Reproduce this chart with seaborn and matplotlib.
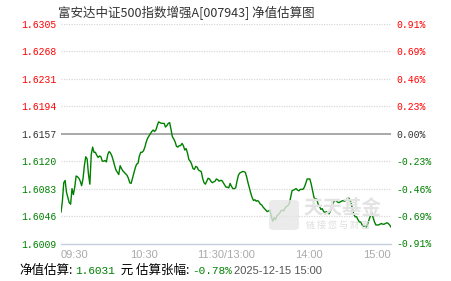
import numpy as np
import pandas as pd
import matplotlib
matplotlib.use("Agg")
import matplotlib.pyplot as plt
import seaborn as sns
from matplotlib.offsetbox import TextArea, HPacker, AnchoredOffsetbox
from matplotlib.patches import FancyBboxPatch

# ---------------- data ----------------
title = "富安达中证500指数增强A[007943] 净值估算图"
prev_nav = 1.6157
nav_values = [
    1.6051, 1.6066, 1.6091, 1.6094, 1.6078, 1.6071, 1.6064, 1.6062, 1.6083, 1.6075,
    1.6085, 1.6100, 1.6099, 1.6097, 1.6093, 1.6087, 1.6096, 1.6114, 1.6126, 1.6123,
    1.6102, 1.6089, 1.6129, 1.6139, 1.6132, 1.6132, 1.6128, 1.6125, 1.6127, 1.6126,
    1.6120, 1.6120, 1.6121, 1.6119, 1.6129, 1.6133, 1.6131, 1.6127, 1.6121, 1.6114,
    1.6108, 1.6105, 1.6102, 1.6114, 1.6110, 1.6107, 1.6105, 1.6103, 1.6101, 1.6097,
    1.6091, 1.6090, 1.6097, 1.6104, 1.6111, 1.6116, 1.6117, 1.6127, 1.6132, 1.6132,
    1.6134, 1.6139, 1.6146, 1.6151, 1.6154, 1.6157, 1.6160, 1.6162, 1.6160, 1.6162,
    1.6168, 1.6173, 1.6172, 1.6171, 1.6171, 1.6171, 1.6166, 1.6168, 1.6171, 1.6172,
    1.6163, 1.6153, 1.6150, 1.6146, 1.6140, 1.6139, 1.6141, 1.6141, 1.6144, 1.6141,
    1.6135, 1.6137, 1.6131, 1.6122, 1.6120, 1.6116, 1.6110, 1.6109, 1.6113, 1.6112,
    1.6108, 1.6107, 1.6106, 1.6097, 1.6091, 1.6089, 1.6093, 1.6097, 1.6096, 1.6093,
    1.6091, 1.6092, 1.6093, 1.6096, 1.6095, 1.6093, 1.6094, 1.6094, 1.6091, 1.6088,
    1.6085, 1.6085, 1.6084, 1.6090, 1.6086, 1.6083, 1.6083, 1.6084, 1.6093, 1.6101,
    1.6104, 1.6105, 1.6106, 1.6106, 1.6105, 1.6099, 1.6091, 1.6084, 1.6077, 1.6071,
    1.6067, 1.6068, 1.6066, 1.6067, 1.6065, 1.6062, 1.6061, 1.6058, 1.6056, 1.6054,
    1.6052, 1.6053, 1.6054, 1.6045, 1.6039, 1.6044, 1.6041, 1.6046, 1.6048, 1.6050,
    1.6053, 1.6054, 1.6053, 1.6057, 1.6059, 1.6060, 1.6063, 1.6071, 1.6080, 1.6081,
    1.6082, 1.6083, 1.6081, 1.6080, 1.6082, 1.6082, 1.6082, 1.6085, 1.6090, 1.6096,
    1.6096, 1.6096, 1.6089, 1.6080, 1.6071, 1.6069, 1.6069, 1.6062, 1.6059, 1.6055,
    1.6056, 1.6052, 1.6051, 1.6052, 1.6050, 1.6049, 1.6053, 1.6060, 1.6064, 1.6067,
    1.6067, 1.6065, 1.6064, 1.6065, 1.6066, 1.6067, 1.6066, 1.6067, 1.6069, 1.6071,
    1.6068, 1.6064, 1.6055, 1.6048, 1.6045, 1.6045, 1.6041, 1.6038, 1.6038, 1.6034,
    1.6032, 1.6033, 1.6031, 1.6035, 1.6041, 1.6046, 1.6050, 1.6044, 1.6038, 1.6034,
    1.6034, 1.6034, 1.6035, 1.6036, 1.6035, 1.6035, 1.6036, 1.6037, 1.6036, 1.6034,
    1.6031,
]
minutes = list(range(len(nav_values)))

left_ticks = [1.6009, 1.6046, 1.6083, 1.6120, 1.6157, 1.6194, 1.6231, 1.6268, 1.6305]
left_labels = ["1.6009", "1.6046", "1.6083", "1.6120", "1.6157", "1.6194", "1.6231", "1.6268", "1.6305"]
right_labels = ["-0.91%", "-0.69%", "-0.46%", "-0.23%", "0.00%", "0.23%", "0.46%", "0.69%", "0.91%"]

x_label_pos = [0, 60, 120, 180, 240]
x_labels = ["09:30", "10:30", "11:30/13:00", "14:00", "15:00"]
x_minor_pos = [30, 90, 150, 210]

est_nav = "1.6031"
est_pct = "-0.78%"
est_time = "2025-12-15 15:00"

# ---------------- style ----------------
sns.set_theme(style="white")
plt.rcParams['font.family'] = ['Noto Sans CJK SC', 'DejaVu Sans']

RED = "#ff0000"
GREEN = "#008000"
DARK = "#333333"
GRAY = "#999999"
AXC = "#c5d0dc"

W, H = 451, 281
fig = plt.figure(figsize=(W / 100, H / 100), dpi=100)
fig.patch.set_facecolor("white")
ax = fig.add_axes([61 / W, 1 - 243.5 / H, 330 / W, 219.5 / H])
ax.set_facecolor("white")

df = pd.DataFrame({"minute": minutes, "nav": nav_values})

# grid
for v in left_ticks[1:]:
    if abs(v - prev_nav) < 1e-9:
        ax.axhline(v, color="#999999", lw=1.2, zorder=1)
    else:
        ax.axhline(v, color="#d8d8d8", lw=0.9, ls=(0, (1, 1)), zorder=1)

# watermark
wm_logo = FancyBboxPatch((269 / W, 1 - 230 / H), 30 / W, 30 / H,
                         boxstyle="round,pad=0,rounding_size=0.012",
                         transform=fig.transFigure, facecolor="#e6e6e6",
                         edgecolor="none", alpha=0.8, zorder=0)
fig.patches.append(wm_logo)
fig.text(342 / W, 1 - 208 / H, "天天基金", fontsize=14, fontweight="bold",
         color="#e3e3e3", ha="center", va="center",
         family=['Noto Sans CJK SC', 'DejaVu Sans'], zorder=0)
fig.text(338 / W, 1 - 225 / H, "链 接 您 与 财 富", fontsize=6.5,
         color="#dedede", ha="center", va="center",
         family=['Noto Sans CJK SC', 'DejaVu Sans'], zorder=0)

sns.lineplot(data=df, x="minute", y="nav", ax=ax, color=GREEN, lw=1.0, zorder=3)

ax.set_xlim(0, 240)
ax.set_ylim(left_ticks[0], left_ticks[-1])
ax.set_xlabel("")
ax.set_ylabel("")

for s in ["top", "right", "left"]:
    ax.spines[s].set_visible(False)
ax.spines["bottom"].set_color(AXC)
ax.spines["bottom"].set_linewidth(1.0)

ax.set_xticks(x_label_pos)
ax.set_xticklabels(x_labels, fontsize=8, color="#aaaaaa", family="Liberation Sans")
ax.set_xticks(x_minor_pos, minor=True)
ax.tick_params(axis="x", which="both", direction="out", length=3, width=1,
               color=AXC, pad=2)
xt = ax.get_xticklabels()
xt[0].set_ha("left")
xt[-1].set_ha("right")

ax.set_yticks(left_ticks)
ax.set_yticklabels(left_labels, fontsize=7, family="Liberation Mono")
ax.tick_params(axis="y", length=0, pad=3)
for lab, v in zip(ax.get_yticklabels(), left_ticks):
    lab.set_color(RED if v > prev_nav + 1e-9 else (GREEN if v < prev_nav - 1e-9 else DARK))

ax2 = ax.twinx()
ax2.set_ylim(ax.get_ylim())
ax2.set_yticks(left_ticks)
ax2.set_yticklabels(right_labels, fontsize=7, family="Liberation Mono")
ax2.tick_params(axis="y", length=0, pad=4)
for s in ["top", "right", "left", "bottom"]:
    ax2.spines[s].set_visible(False)
for lab, v in zip(ax2.get_yticklabels(), left_ticks):
    lab.set_color(RED if v > prev_nav + 1e-9 else (GREEN if v < prev_nav - 1e-9 else DARK))

# title
fig.text(58 / W, 1 - 12.5 / H, title, fontsize=9, color=DARK, ha="left", va="center")

# bottom info line
cjk = ['Noto Sans CJK SC', 'DejaVu Sans']
parts = [
    TextArea("净值估算:", textprops=dict(fontsize=9, color="#000000", family=cjk)),
    TextArea(est_nav, textprops=dict(fontsize=8, color=GREEN, family="Liberation Mono")),
    TextArea(" 元 估算张幅:", textprops=dict(fontsize=9, color="#000000", family=cjk)),
    TextArea(est_pct, textprops=dict(fontsize=8, color=GREEN, family="Liberation Mono")),
    TextArea(est_time, textprops=dict(fontsize=8, color="#555555", family="Liberation Sans")),
]
pack = HPacker(children=parts, align="baseline", pad=0, sep=2)
anch = AnchoredOffsetbox(loc="center left", child=pack, pad=0, frameon=False,
                         bbox_to_anchor=(19 / W, 1 - 270 / H),
                         bbox_transform=fig.transFigure, borderpad=0)
fig.add_artist(anch)

fig.savefig("out.png", dpi=100, facecolor="white")
